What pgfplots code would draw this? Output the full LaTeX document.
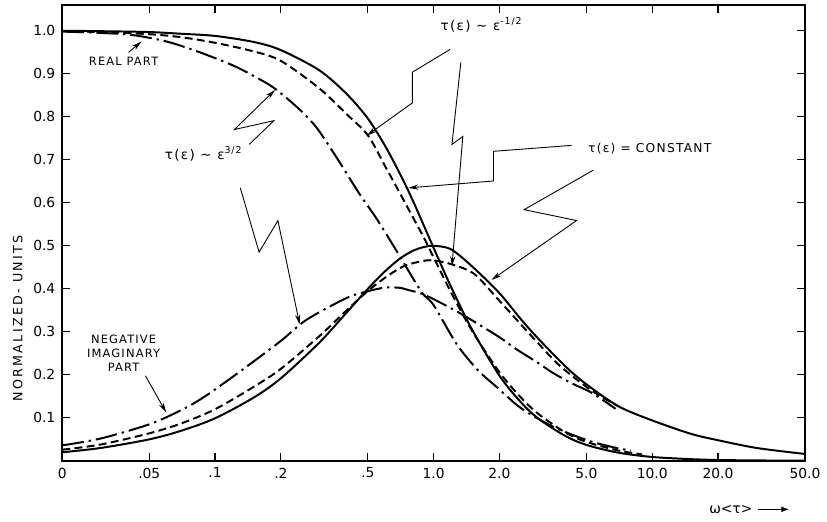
\documentclass[border=0pt]{standalone}
\usepackage{pgfplots}
\pgfplotsset{compat=1.18}
\usepackage{fontspec}
\setmainfont{DejaVu Sans}
\newfontfamily\lett[LetterSpace=10]{DejaVu Sans}
\newfontfamily\wlett[LetterSpace=18]{DejaVu Sans}
\usetikzlibrary{arrows.meta}

\begin{document}
\begin{tikzpicture}[px/.style={x=0.5pt,y=-0.5pt,shift={(-63,-466)}}]
% page frame in reference pixels
\begin{scope}[px]
\path[use as bounding box] (0,0) rectangle (827,527);
\end{scope}

\begin{axis}[
    at={(0,0)}, anchor=south west,
    scale only axis,
    width=375.5pt, height=230.5pt,
    xmode=log,
    xmin=0.02, xmax=50,
    ymin=0, ymax=1.06,
    xtick={0.02,0.05,0.1,0.2,0.5,1,2,5,10,20,50},
    xticklabels={0,.05,.1,.2,.5,1.0,2.0,5.0,10.0,20.0,50.0},
    xminorticks=false,
    ytick={0.1,0.2,0.3,0.4,0.5,0.6,0.7,0.8,0.9,1.0},
    yticklabels={0.1,0.2,0.3,0.4,0.5,0.6,0.7,0.8,0.9,1.0},
    tick align=inside,
    major tick length=4pt,
    tick style={black, line width=0.6pt},
    tick label style={font=\fontsize{7}{8}\selectfont},
    axis line style={line width=0.9pt},
]

% tau = constant : real part
\addplot[line width=1pt, smooth] coordinates {
    (0.02,1.000) (0.03,0.999) (0.05,0.997) (0.07,0.993) (0.1,0.988)
    (0.15,0.974) (0.2,0.955) (0.3,0.908) (0.4,0.853) (0.5,0.796)
    (0.6,0.732) (0.7,0.668) (0.8,0.607) (1.0,0.495) (1.2,0.405)
    (1.5,0.305) (2.0,0.198) (2.5,0.137) (3.0,0.099) (4.0,0.058)
    (5.0,0.037) (7.0,0.019) (10,0.009) (15,0.004) (20,0.002)
    (30,0.001) (50,0.0004)
};
% tau = constant : negative imaginary part
\addplot[line width=1pt, smooth] coordinates {
    (0.02,0.020) (0.03,0.030) (0.05,0.050) (0.07,0.070) (0.1,0.099)
    (0.15,0.147) (0.2,0.192) (0.3,0.275) (0.4,0.345) (0.5,0.400)
    (0.6,0.441) (0.7,0.470) (0.8,0.488) (0.9,0.497) (1.0,0.500)
    (1.2,0.492) (1.5,0.452) (2.0,0.390) (2.5,0.330) (3.0,0.285)
    (4.0,0.220) (5.0,0.178) (7.0,0.127) (10,0.094) (15,0.063)
    (20,0.048) (30,0.030) (50,0.016)
};

% tau ~ eps^-1/2 : real part
\addplot[line width=1pt, smooth, dash pattern=on 4pt off 2.2pt] coordinates {
    (0.02,0.999) (0.03,0.997) (0.05,0.992) (0.07,0.985) (0.1,0.972)
    (0.15,0.952) (0.2,0.930) (0.3,0.866) (0.4,0.806) (0.5,0.757)
    (0.6,0.685) (0.7,0.623) (0.8,0.568) (0.9,0.520) (1.0,0.473)
    (1.2,0.392) (1.5,0.302) (2.0,0.206) (2.5,0.148) (3.0,0.110)
    (4.0,0.066) (5.0,0.044) (7.0,0.024) (9.0,0.015)
};
% tau ~ eps^-1/2 : negative imaginary part
\addplot[line width=1pt, smooth, dash pattern=on 4pt off 2.2pt] coordinates {
    (0.02,0.026) (0.03,0.038) (0.05,0.064) (0.07,0.087) (0.1,0.120)
    (0.15,0.172) (0.2,0.214) (0.3,0.290) (0.4,0.350) (0.5,0.395)
    (0.62,0.431) (0.74,0.454) (0.9,0.465) (1.0,0.466) (1.19,0.458)
    (1.53,0.435) (2.0,0.372) (2.5,0.318) (3.0,0.274) (3.76,0.222)
    (5.0,0.172) (6.0,0.146) (7.0,0.127)
};

% tau ~ eps^3/2 : real part
\addplot[line width=1pt, smooth, dash pattern=on 11pt off 2.5pt on 1.2pt off 2.5pt] coordinates {
    (0.02,0.998) (0.03,0.995) (0.042,0.990) (0.06,0.975) (0.084,0.951)
    (0.12,0.920) (0.15,0.895) (0.186,0.867) (0.24,0.820) (0.291,0.775)
    (0.358,0.707) (0.456,0.622) (0.55,0.562) (0.692,0.480) (0.879,0.393)
    (1.0,0.362) (1.28,0.270) (1.6,0.210) (1.94,0.172) (2.4,0.130)
    (2.8,0.107) (3.5,0.080) (4.5,0.057) (5.5,0.042) (7.0,0.029) (8.0,0.024)
};
% tau ~ eps^3/2 : negative imaginary part
\addplot[line width=1pt, smooth, dash pattern=on 11pt off 2.5pt on 1.2pt off 2.5pt] coordinates {
    (0.02,0.036) (0.03,0.052) (0.05,0.085) (0.07,0.118) (0.09,0.150)
    (0.131,0.209) (0.199,0.278) (0.262,0.328) (0.397,0.378) (0.489,0.393)
    (0.6,0.403) (0.71,0.402) (0.77,0.397) (0.91,0.386) (1.24,0.351)
    (1.53,0.324) (2.02,0.286) (2.4,0.259) (3.0,0.228) (3.5,0.205)
    (4.3,0.180) (5.3,0.158) (6.8,0.121)
};
\end{axis}

% labels and pointer arrows, placed in reference pixels
\begin{scope}[px, line width=0.45pt, >={Stealth[length=5pt,width=2.6pt]}]
\node[font=\lett\fontsize{5.8}{6}\selectfont] at (125,62) {REAL PART};
\draw[->] (130,53) -- (143,42);

\node[font=\lett\fontsize{6.8}{7}\selectfont] at (206,156) {τ(ε) ∼ ε\textsuperscript{3/2}};
\draw[->] (252,146) -- (277,122) -- (237,131) -- (278,91);
\draw[->] (243,190) -- (262,255) -- (281,223) -- (303,328);

\node[font=\lett\fontsize{6.8}{7}\selectfont] at (487,25) {τ(ε) ∼ ε\textsuperscript{-1/2}};
\draw[->] (455,50) -- (417,73) -- (417,104) -- (371,137);
\draw[->] (466,63) -- (457,146) -- (468,138) -- (457,269);

\node[font=\lett\fontsize{6.2}{7}\selectfont] at (657,150) {τ(ε) = CONSTANT};
\draw[->] (578,147) -- (499,153) -- (499,183) -- (413,190);
\draw[->] (600,172) -- (530,212) -- (583,223) -- (497,283);

\node[font=\lett\fontsize{5.8}{7}\selectfont, align=center] at (125,357)
    {NEGATIVE\\IMAGINARY\\PART};
\draw[->] (147,380) -- (168,417);

\node[font=\wlett\fontsize{6.4}{7}\selectfont, rotate=90] at (18,322) {NORMALIZED- UNITS};

\node[font=\fontsize{7}{8}\selectfont] at (739,515) {ω<τ>};
\draw[-{Latex[length=4pt,width=3pt]}, line width=0.6pt] (766,515) -- (798,515);
\end{scope}
\end{tikzpicture}
\end{document}
